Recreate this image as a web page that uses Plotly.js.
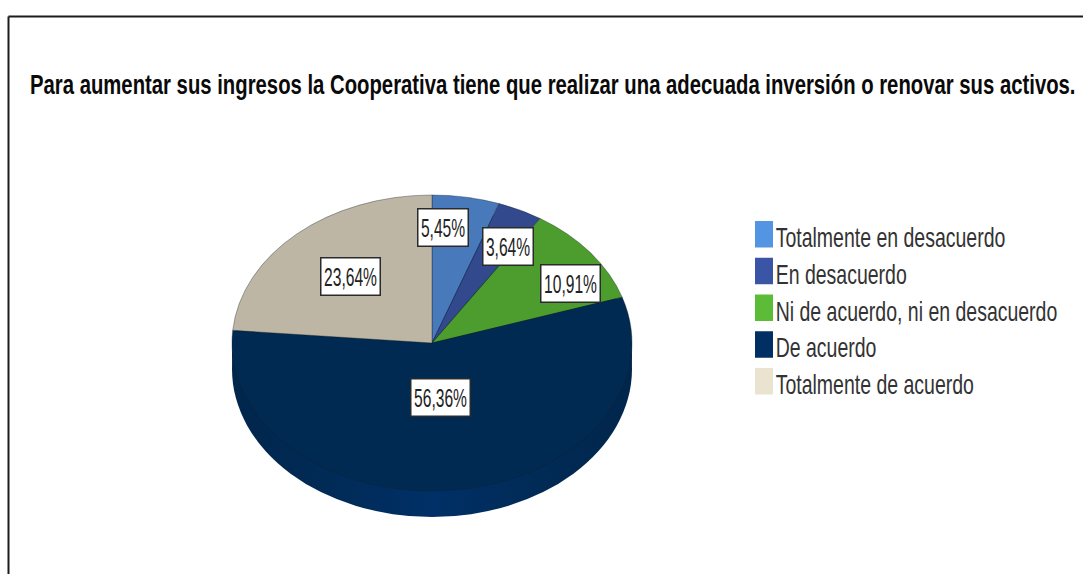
<!DOCTYPE html>
<html>
<head>
<meta charset="utf-8">
<script src="https://cdn.plot.ly/plotly-3.0.1.min.js"></script>
<style>html,body{margin:0;padding:0;background:#fff;overflow:hidden}</style>
</head>
<body>
<div id="chart" style="width:1083px;height:574px"></div>
<script>
var titleText = 'Para aumentar sus ingresos la Cooperativa tiene que realizar una adecuada inversión o renovar sus activos.';
var categories = ['Totalmente en desacuerdo', 'En desacuerdo', 'Ni de acuerdo, ni en desacuerdo', 'De acuerdo', 'Totalmente de acuerdo'];
var percents = [5.45, 3.64, 10.91, 56.36, 23.64];
var sliceColors = ['#4779bb', '#32498e', '#4c9c2e', '#002a52', '#bdb6a4'];
var legendColors = ['#5495e3', '#3b55a6', '#5cbc38', '#002f63', '#e9e3cf'];
var labelCenters = [[442.5, 227.5], [508, 246.5], [570.5, 284], [440.5, 397.5], [350, 277]];

var W = 1083, H = 574, CX = 432, CY = 343, R = 200, K = 0.74, DEPTH = 26;
var px = function (x) { return x / W; };
var py = function (y) { return 1 - y / H; };
var total = percents.reduce(function (a, b) { return a + b; }, 0);

function pieDomain(cy) {
  return { x: [px(CX - R), px(CX + R)], y: [py(cy + R), py(cy - R)] };
}

var depthTrace = {
  type: 'pie', values: [total], labels: ['base'], domain: pieDomain(CY + DEPTH),
  sort: false, textinfo: 'none', hoverinfo: 'skip', showlegend: false,
  marker: { colors: ['#002f63'], line: { width: 0 } }
};
var midTrace = {
  type: 'pie', values: [total], labels: ['mid'], domain: pieDomain(CY + DEPTH / 2),
  sort: false, textinfo: 'none', hoverinfo: 'skip', showlegend: false,
  marker: { colors: ['#002f63'], line: { width: 0 } }
};
var topTrace = {
  type: 'pie', values: percents, labels: categories, domain: pieDomain(CY),
  sort: false, direction: 'clockwise', rotation: 0, textinfo: 'none', hoverinfo: 'label+percent', showlegend: false,
  marker: { colors: sliceColors, line: { color: 'rgba(20,30,40,0.6)', width: 0.7 } }
};

var shapes = [
  { type: 'line', xref: 'paper', yref: 'paper', x0: px(8.5), x1: 1, y0: py(16.5), y1: py(16.5), line: { color: '#1c1c1c', width: 2 } },
  { type: 'line', xref: 'paper', yref: 'paper', x0: px(8.5), x1: px(8.5), y0: py(16.5), y1: 0, line: { color: '#1c1c1c', width: 2 } }
];
var annotations = [];

categories.forEach(function (c, i) {
  var top = 221 + i * 36.75;
  shapes.push({
    type: 'rect', xref: 'paper', yref: 'paper', x0: px(755), x1: px(773), y0: py(top), y1: py(top + 26.5),
    fillcolor: legendColors[i], line: { width: 0 }
  });
  annotations.push({
    xref: 'paper', yref: 'paper', x: px(775), y: py(top + 17), xanchor: 'left', yanchor: 'middle',
    text: c, showarrow: false, align: 'left', borderpad: 0,
    font: { family: 'Liberation Sans, Arial, sans-serif', size: 27, color: '#333333' }
  });
});

percents.forEach(function (v, i) {
  var wide = v >= 10;
  annotations.push({
    xref: 'paper', yref: 'paper', x: px(labelCenters[i][0]), y: py(labelCenters[i][1]),
    xanchor: 'center', yanchor: 'middle', showarrow: false,
    text: v.toFixed(2).replace('.', ',') + '%',
    width: wide ? 58 : 49, height: 36, borderpad: 0, borderwidth: 1.5, bordercolor: '#2a2a2a', bgcolor: '#ffffff',
    font: { family: 'Liberation Sans, Arial, sans-serif', size: 26, color: '#222222' }
  });
});

var layout = {
  width: W, height: H, margin: { l: 0, r: 0, t: 0, b: 0 }, paper_bgcolor: '#ffffff', showlegend: false,
  title: {
    text: titleText, x: px(30), xref: 'paper', xanchor: 'left', y: py(85), yref: 'paper', yanchor: 'middle',
    font: { family: 'Liberation Sans, Arial, sans-serif', size: 27, color: '#0a0a0a', weight: 'bold' }
  },
  shapes: shapes, annotations: annotations
};

function squeeze(el, ratio) {
  var n = el.getComputedTextLength();
  el.setAttribute('textLength', (n * ratio).toFixed(1));
  el.setAttribute('lengthAdjust', 'spacingAndGlyphs');
}
function scaleX(el, x0, ratio) {
  el.setAttribute('transform', 'translate(' + x0 + ',0) scale(' + ratio + ',1) translate(' + (-x0) + ',0)');
}

Plotly.newPlot('chart', [depthTrace, midTrace, topTrace], layout, { displayModeBar: false }).then(function (gd) {
  var svg = gd.querySelector('.main-svg');
  var ns = 'http://www.w3.org/2000/svg';
  var defs = svg.querySelector('defs') || svg.insertBefore(document.createElementNS(ns, 'defs'), svg.firstChild);
  var grad = document.createElementNS(ns, 'linearGradient');
  grad.setAttribute('id', 'depthShade');
  [[0, '#01264c'], [0.22, '#012a55'], [0.5, '#003067'], [0.78, '#012a55'], [1, '#01264c']].forEach(function (s) {
    var st = document.createElementNS(ns, 'stop');
    st.setAttribute('offset', s[0]);
    st.setAttribute('stop-color', s[1]);
    grad.appendChild(st);
  });
  defs.appendChild(grad);

  var centers = [CY + DEPTH, CY + DEPTH / 2, CY];
  gd.querySelectorAll('.pielayer .trace').forEach(function (g, i) {
    var cy = centers[i];
    g.setAttribute('transform', 'translate(0,' + cy + ') scale(1,' + K + ') translate(0,' + (-cy) + ')');
    if (i < 2) {
      g.querySelectorAll('path.surface').forEach(function (p) { p.style.fill = 'url(#depthShade)'; });
    }
  });

  var t = gd.querySelector('.gtitle');
  if (t) scaleX(t, 30, 0.752);
  gd.querySelectorAll('.annotation').forEach(function (g, i) {
    if (i < categories.length) scaleX(g, 775, 0.722);
    else squeeze(g.querySelector('.annotation-text'), 0.6);
  });
});
</script>
</body>
</html>
